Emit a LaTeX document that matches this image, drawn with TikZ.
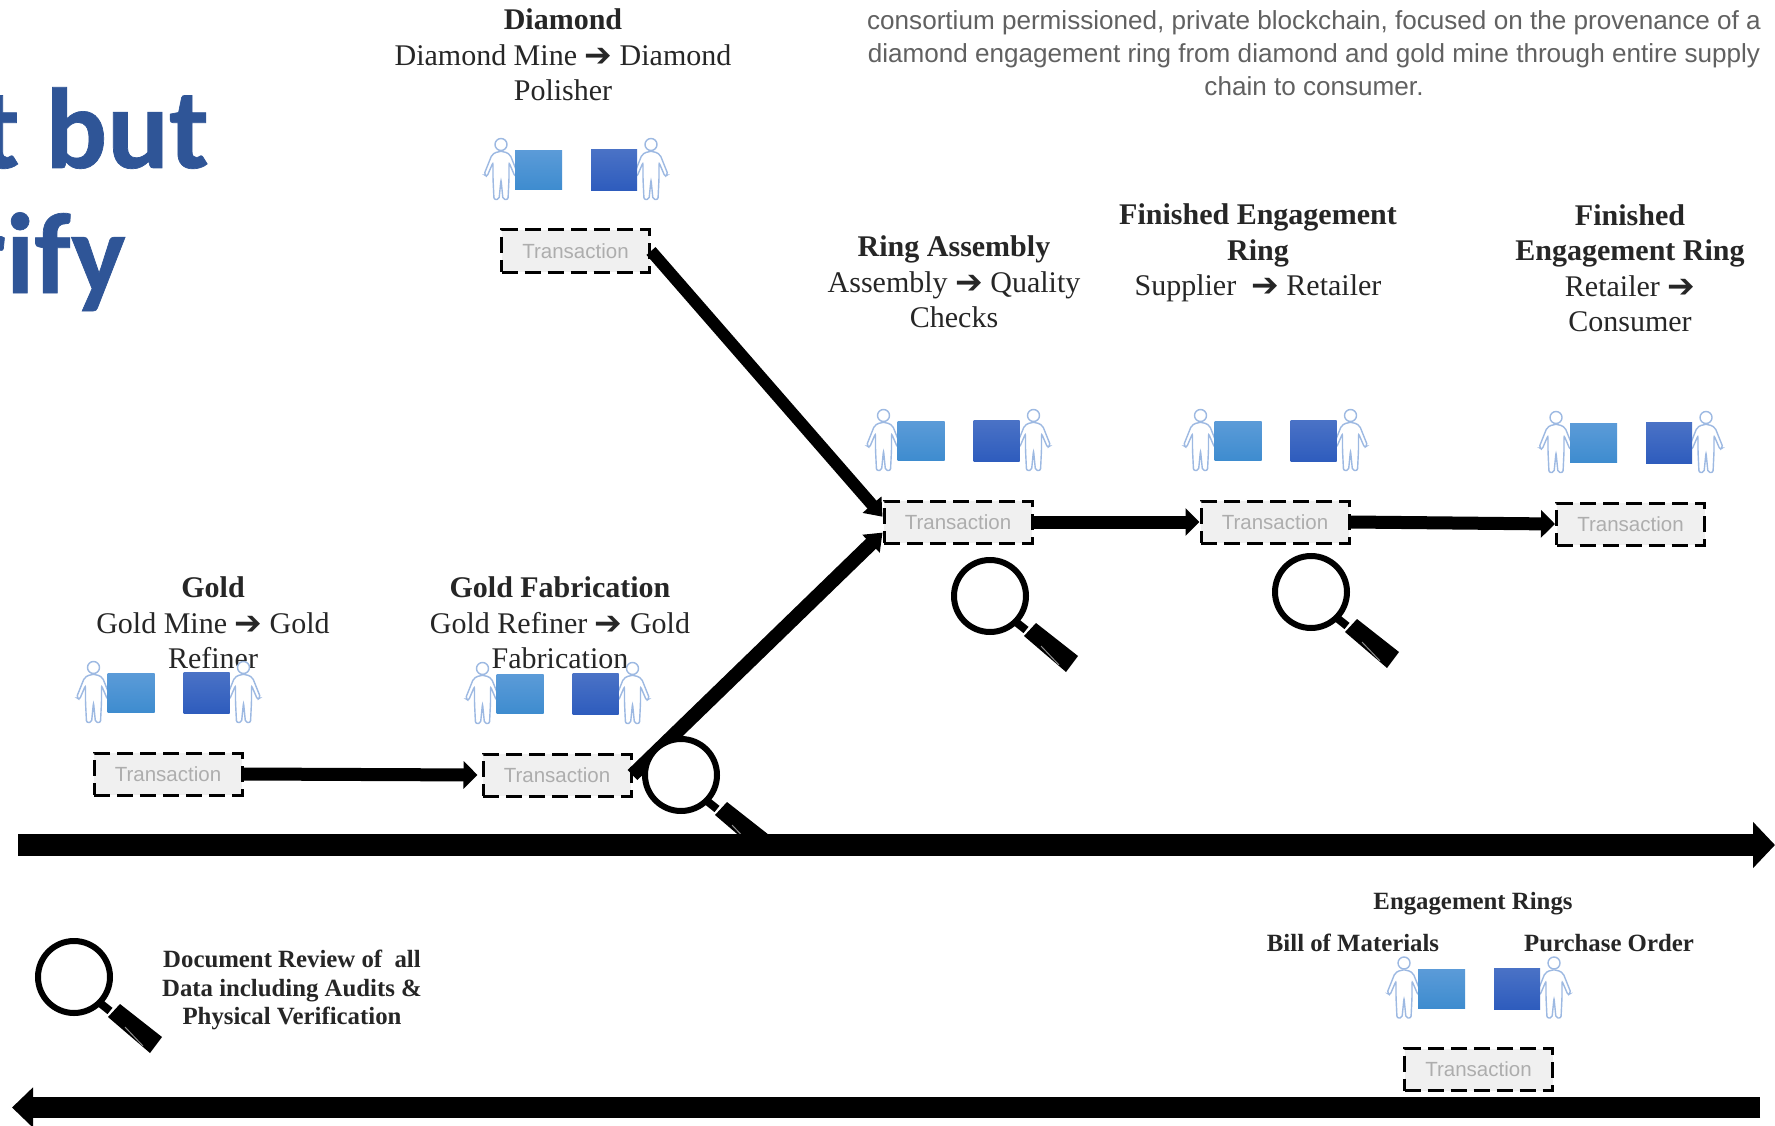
\documentclass[tikz,border=0pt]{standalone}
\usepackage{fontspec}
\setmainfont{Liberation Serif}
\newfontfamily\arrowfont{DejaVu Sans}
\newfontfamily\descfont{Liberation Sans}
\newfontfamily\titlefont[FakeBold=0.6]{Carlito Bold}
\usetikzlibrary{arrows.meta}
\definecolor{titleblue}{HTML}{2F5597}
\definecolor{persline}{HTML}{9DB9E2}
\newcommand{\tharrow}{{\arrowfont\bfseries\fontsize{33}{33}\selectfont\raisebox{-1pt}{➔}}}
\tikzset{
  x=1pt,y=-1pt,
  txbox/.style={draw=black,line width=3pt,dash pattern=on 16pt off 7pt,fill=black!6,minimum width=148pt,minimum height=42pt,inner sep=0pt,text=black!32,font=\descfont\fontsize{20.5}{24}\selectfont},
  label/.style={align=center,text=black!85,font=\fontsize{30}{35.5}\selectfont,inner sep=0pt},
  smalllabel/.style={align=center,text=black!85,font=\bfseries\fontsize{24.8}{28.5}\selectfont,inner sep=0pt},
  flowarrow/.style={line width=13pt,-{Triangle[length=14pt,width=27pt]}},
  diagarrow/.style={line width=#1,-{Triangle[length=16pt,width=24pt]}},
  mainarrow/.style={line width=22pt,-{Triangle[length=22pt,width=45pt]}},
  person/.pic={
    \draw[persline,line width=1.4pt,fill=white] (0,7) circle (6);
    \draw[persline,line width=1.4pt,fill=white,rounded corners=2pt]
      (-3,14) -- (-9,17) -- (-17,37) -- (-14,39) -- (-8,25) -- (-8,41) -- (-7,62) -- (-2,62) -- (0,42)
      -- (2,62) -- (7,62) -- (8,41) -- (8,25) -- (14,39) -- (17,37) -- (9,17) -- (3,14) -- cycle;
  },
  actors/.pic={
    \pic at (1,-91) {person};
    \pic at (151,-91) {person};
    \shade[top color={rgb,255:red,91;green,155;blue,216},bottom color={rgb,255:red,62;green,140;blue,207}] (15,-78) rectangle (62,-39);
    \shade[top color={rgb,255:red,74;green,114;blue,198},bottom color={rgb,255:red,46;green,92;blue,189}] (91,-79) rectangle (137,-38);
  },
  lens/.pic={
    \draw[black,line width=6pt,fill=white] (0,0) circle (36);
    \draw[black,line width=8pt] (26,26) -- (36,34);
    \fill[black] (46,27) -- (88,60) -- (76,76) -- (34,40) -- cycle;
    \draw[black!45,line width=1pt] (51,50) -- (69,69);
  }
}
\begin{document}
\begin{tikzpicture}
\useasboundingbox (0,0) rectangle (1775,1126);
\clip (0,0) rectangle (1775,1126);
\fill[white] (0,0) rectangle (1775,1126);

% title, cut off by the left edge
\node[anchor=base east,inner sep=0pt,text=titleblue,font=\titlefont\fontsize{115}{115}\selectfont] (titleA) at (209,168) {t but};
\node[anchor=base east,inner sep=0pt,text=titleblue,font=\titlefont\fontsize{115}{115}\selectfont] (titleB) at (126,293) {rify};

% description
\node[align=center,inner sep=0pt,text=black!62,font=\descfont\fontsize{26.1}{33}\selectfont] (desc) at (1314,53)
 {consortium permissioned, private blockchain, focused on the provenance of a\\
  diamond engagement ring from diamond and gold mine through entire supply\\
  chain to consumer.};

% stage labels
\node[label] (lgold) at (213,623) {\textbf{Gold}\\Gold Mine \tharrow{} Gold\\Refiner};
\node[label] (lfab) at (560,623) {\textbf{Gold Fabrication}\\Gold Refiner \tharrow{} Gold\\Fabrication};
\node[label] (ldia) at (563,55) {\textbf{Diamond}\\Diamond Mine \tharrow{} Diamond\\Polisher};
\node[label] (lring) at (954,282) {\textbf{Ring Assembly}\\Assembly \tharrow{} Quality\\Checks};
\node[label] (lfin) at (1258,253) {\textbf{Finished Engagement}\\\textbf{Ring}\\Supplier \ \tharrow{} Retailer};
\node[label] (lcons) at (1630,268) {\textbf{Finished}\\\textbf{Engagement Ring}\\Retailer \tharrow{}\\Consumer};
\node[smalllabel] (leng) at (1473,904) {Engagement Rings};
\node[smalllabel] (lbill) at (1353,943) {Bill of Materials};
\node[smalllabel] (lpo) at (1609,943) {Purchase Order};
\node[smalllabel] (ldoc) at (292,990) {Document Review of \ all\\Data including Audits \&\\Physical Verification};

% transaction boxes
\node[txbox] (gold) at (168,774) {Transaction};
\node[txbox] (fab) at (557,775) {Transaction};
\node[txbox] (dia) at (575.5,251) {Transaction};
\node[txbox] (ring) at (958,522) {Transaction};
\node[txbox] (fin) at (1275,522) {Transaction};
\node[txbox] (cons) at (1630.5,524) {Transaction};
\node[txbox] (eng) at (1478.5,1069.5) {Transaction};

% people and documents
\foreach \n in {gold,fab,dia,ring,fin,cons,eng} {\pic at (\n.north west) {actors};}

% connectors
\draw[flowarrow,shorten >=4pt] (gold.east) -- (fab.west);
\draw[flowarrow] (ring.east) -- (fin.west);
\draw[flowarrow] (fin.east) -- (cons.west);
\draw[diagarrow=12pt] (dia.east) -- (ring.176);
\draw[diagarrow=14pt] (fab.east) -- (ring.188);

% magnifiers
\coordinate (m1) at (990,596);
\coordinate (m2) at (1311,592);
\coordinate (m3) at (681,775);
\coordinate (m4) at (74,977);
\foreach \m in {m1,m2,m3,m4} {\pic at (\m) {lens};}

% timeline arrows
\coordinate (topS) at (18,845);
\coordinate (topE) at (1775,845);
\coordinate (botS) at (1760,1107.5);
\coordinate (botE) at (12,1107.5);
\draw[mainarrow] (topS) -- (topE);
\draw[line width=21pt,-{Triangle[length=21pt,width=39pt]}] (botS) -- (botE);
\end{tikzpicture}
\end{document}
